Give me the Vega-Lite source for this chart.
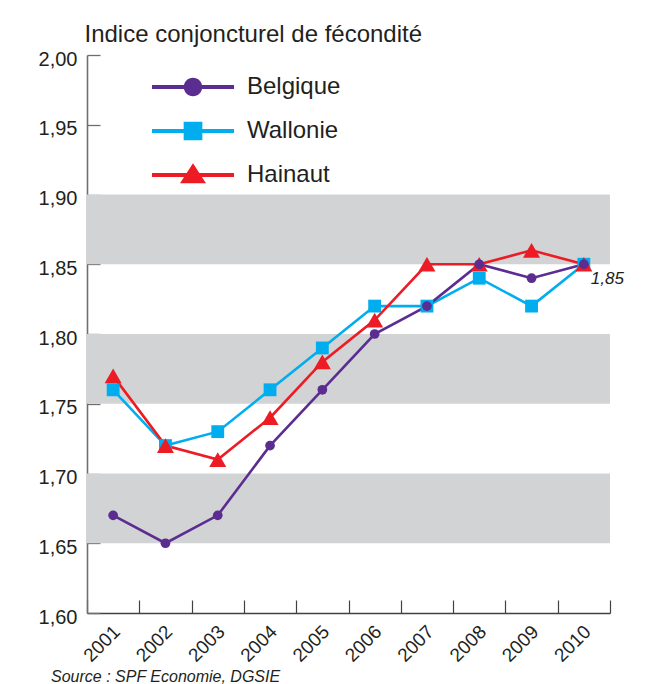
{
  "$schema": "https://vega.github.io/schema/vega-lite/v6.json",
  "width": 523,
  "height": 558,
  "autosize": {"type": "none"},
  "padding": {"left": 87, "top": 55, "right": 35, "bottom": 71},
  "background": "white",
  "config": {
    "view": {"stroke": null},
    "font": "Liberation Sans",
    "locale": {"number": {"decimal": ",", "thousands": " ", "grouping": [3], "currency": ["", " €"]}}
  },
  "title": {
    "text": "Source : SPF Economie, DGSIE",
    "orient": "bottom",
    "anchor": "start",
    "frame": "group",
    "dx": -36,
    "offset": 4,
    "fontSize": 16,
    "fontStyle": "italic",
    "fontWeight": "normal",
    "color": "#231f20",
    "font": "Liberation Sans"
  },
  "datasets": {
    "bandes": [
      {"debut": 1.65, "fin": 1.70},
      {"debut": 1.75, "fin": 1.80},
      {"debut": 1.85, "fin": 1.90}
    ],
    "series": [
      {"annee": "2001", "serie": "Wallonie", "valeur": 1.76},
      {"annee": "2002", "serie": "Wallonie", "valeur": 1.72},
      {"annee": "2003", "serie": "Wallonie", "valeur": 1.73},
      {"annee": "2004", "serie": "Wallonie", "valeur": 1.76},
      {"annee": "2005", "serie": "Wallonie", "valeur": 1.79},
      {"annee": "2006", "serie": "Wallonie", "valeur": 1.82},
      {"annee": "2007", "serie": "Wallonie", "valeur": 1.82},
      {"annee": "2008", "serie": "Wallonie", "valeur": 1.84},
      {"annee": "2009", "serie": "Wallonie", "valeur": 1.82},
      {"annee": "2010", "serie": "Wallonie", "valeur": 1.85},
      {"annee": "2001", "serie": "Hainaut", "valeur": 1.77},
      {"annee": "2002", "serie": "Hainaut", "valeur": 1.72},
      {"annee": "2003", "serie": "Hainaut", "valeur": 1.71},
      {"annee": "2004", "serie": "Hainaut", "valeur": 1.74},
      {"annee": "2005", "serie": "Hainaut", "valeur": 1.78},
      {"annee": "2006", "serie": "Hainaut", "valeur": 1.81},
      {"annee": "2007", "serie": "Hainaut", "valeur": 1.85},
      {"annee": "2008", "serie": "Hainaut", "valeur": 1.85},
      {"annee": "2009", "serie": "Hainaut", "valeur": 1.86},
      {"annee": "2010", "serie": "Hainaut", "valeur": 1.85},
      {"annee": "2001", "serie": "Belgique", "valeur": 1.67},
      {"annee": "2002", "serie": "Belgique", "valeur": 1.65},
      {"annee": "2003", "serie": "Belgique", "valeur": 1.67},
      {"annee": "2004", "serie": "Belgique", "valeur": 1.72},
      {"annee": "2005", "serie": "Belgique", "valeur": 1.76},
      {"annee": "2006", "serie": "Belgique", "valeur": 1.80},
      {"annee": "2007", "serie": "Belgique", "valeur": 1.82},
      {"annee": "2008", "serie": "Belgique", "valeur": 1.85},
      {"annee": "2009", "serie": "Belgique", "valeur": 1.84},
      {"annee": "2010", "serie": "Belgique", "valeur": 1.85}
    ]
  },
  "layer": [
    {
      "data": {"name": "bandes"},
      "mark": {"type": "rect", "color": "#d1d3d4"},
      "encoding": {
        "y": {
          "field": "debut",
          "type": "quantitative",
          "scale": {"domain": [1.6, 2.0], "nice": false, "zero": false},
          "axis": {
            "title": "Indice conjoncturel de fécondité",
            "titleAngle": 0,
            "titleAlign": "left",
            "titleBaseline": "alphabetic",
            "titleX": -3,
            "titleY": -14,
            "titleFontSize": 24,
            "titleFontWeight": "normal",
            "titleColor": "#231f20",
            "titleFont": "Liberation Sans",
            "values": [1.6, 1.65, 1.7, 1.75, 1.8, 1.85, 1.9, 1.95, 2.0],
            "format": ".2f",
            "labelFontSize": 20,
            "labelColor": "#231f20",
            "labelFont": "Liberation Sans",
            "labelPadding": 23,
            "labelOffset": 4,
            "tickSize": -13,
            "tickColor": "#6d6e71",
            "tickWidth": 1.3,
            "domainColor": "#6d6e71",
            "domainWidth": 1.6,
            "grid": false
          }
        },
        "y2": {"field": "fin"}
      }
    },
    {
      "data": {"name": "series"},
      "mark": {"type": "line", "strokeWidth": 2.6},
      "encoding": {
        "x": {
          "field": "annee",
          "type": "ordinal",
          "scale": {"paddingInner": 0, "paddingOuter": 0},
          "axis": {
            "title": null,
            "labelAngle": -45,
            "labelFontSize": 19,
            "labelColor": "#231f20",
            "labelFont": "Liberation Sans",
            "labelOffset": -3,
            "tickBand": "extent",
            "tickSize": -13,
            "tickColor": "#414042",
            "tickWidth": 1.2,
            "domainColor": "#414042",
            "domainWidth": 1.5,
            "labelPadding": 22
          }
        },
        "y": {"field": "valeur", "type": "quantitative"},
        "color": {
          "field": "serie",
          "type": "nominal",
          "scale": {"domain": ["Belgique", "Wallonie", "Hainaut"], "range": ["#5c2d91", "#00aeef", "#ed1c24"]},
          "legend": {
            "title": null,
            "orient": "none",
            "legendX": 65,
            "legendY": 10,
            "symbolSize": 6724,
            "symbolType": "circle",
            "clipHeight": 44,
            "labelFontSize": 24,
            "labelFont": "Liberation Sans",
            "labelColor": "#231f20",
            "labelOffset": 13,
            "rowPadding": 0,
            "encode": {
              "symbols": {
                "update": {
                  "shape": {"signal": "datum.value === 'Belgique' ? 'M-1,-0.05L1,-0.05L1,0.05L-1,0.05ZM-0.226,0A0.226,0.226,0,1,1,0.226,0A0.226,0.226,0,1,1,-0.226,0Z' : datum.value === 'Wallonie' ? 'M-1,-0.05L1,-0.05L1,0.05L-1,0.05ZM-0.228,-0.228L0.228,-0.228L0.228,0.228L-0.228,0.228Z' : 'M-1,-0.05L1,-0.05L1,0.05L-1,0.05ZM0,-0.285L0.317,0.203L-0.317,0.203Z'"},
                  "fill": {"signal": "scale('color', datum.value)"},
                  "stroke": {"value": "transparent"},
                  "strokeWidth": {"value": 0},
                  "opacity": {"value": 1}
                }
              }
            }
          }
        }
      }
    },
    {
      "data": {"name": "series"},
      "transform": [{"filter": "datum.serie === 'Wallonie'"}],
      "mark": {"type": "point", "filled": true, "opacity": 1, "shape": "square", "size": 165, "color": "#00aeef"},
      "encoding": {
        "x": {"field": "annee", "type": "ordinal"},
        "y": {"field": "valeur", "type": "quantitative"}
      }
    },
    {
      "data": {"name": "series"},
      "transform": [{"filter": "datum.serie === 'Hainaut'"}],
      "mark": {"type": "point", "filled": true, "opacity": 1, "shape": "triangle-up", "size": 290, "color": "#ed1c24"},
      "encoding": {
        "x": {"field": "annee", "type": "ordinal"},
        "y": {"field": "valeur", "type": "quantitative"}
      }
    },
    {
      "data": {"name": "series"},
      "transform": [{"filter": "datum.serie === 'Belgique'"}],
      "mark": {"type": "point", "filled": true, "opacity": 1, "shape": "circle", "size": 95, "color": "#5c2d91"},
      "encoding": {
        "x": {"field": "annee", "type": "ordinal"},
        "y": {"field": "valeur", "type": "quantitative"}
      }
    },
    {
      "data": {"name": "series"},
      "transform": [{"filter": "datum.serie === 'Belgique' && datum.annee === '2010'"}],
      "mark": {"type": "text", "align": "left", "baseline": "middle", "dx": 7, "dy": 15, "fontSize": 17, "fontStyle": "italic", "color": "#231f20", "font": "Liberation Sans"},
      "encoding": {
        "x": {"field": "annee", "type": "ordinal"},
        "y": {"field": "valeur", "type": "quantitative"},
        "text": {"field": "valeur", "type": "quantitative", "format": ".2f"}
      }
    }
  ]
}
